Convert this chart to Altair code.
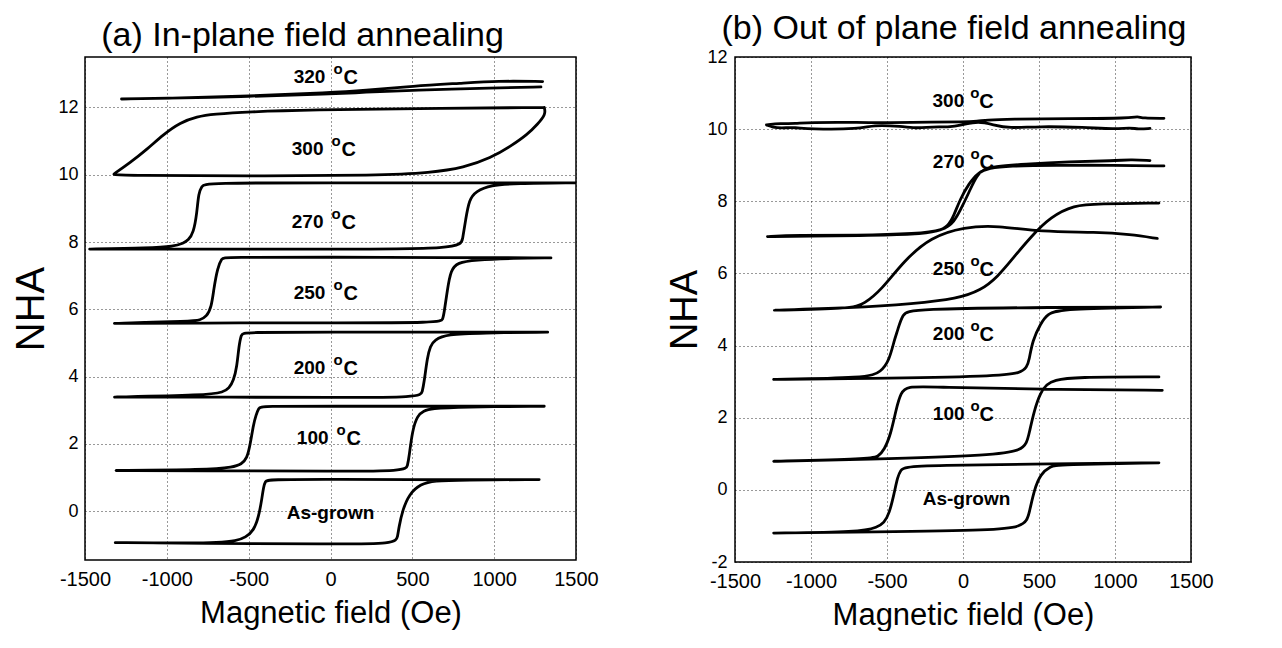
import altair as alt
import pandas as pd

FONT = "Liberation Sans"

# ---------------- Panel (a): in-plane field annealing ----------------
# each loop: descending branch (from +H to -H) and ascending branch (from -H to +H), (H [Oe], NHA)
A_ASG_DOWN = [(1275, 0.94), (700, 0.93), (0, 0.95), (-380, 0.94), (-398, 0.90), (-410, 0.70), (-418, 0.41),
              (-439, -0.18), (-470, -0.58), (-520, -0.78), (-572, -0.88), (-700, -0.93), (-819, -0.95), (-1337, -0.93)]
A_ASG_UP = [(-1337, -0.93), (-800, -0.96), (0, -0.97), (398, -0.98), (410, -0.75), (418, -0.48), (439, 0.01),
            (480, 0.51), (551, 0.81), (633, 0.91), (800, 0.93), (1275, 0.94)]

A_100_DOWN = [(1306, 3.12), (700, 3.12), (0, 3.12), (-420, 3.12), (-439, 3.08), (-455, 2.85), (-470, 2.60),
              (-490, 2.00), (-510, 1.56), (-545, 1.40), (-592, 1.31), (-757, 1.23), (-1337, 1.21)]
A_100_UP = [(-1337, 1.21), (-600, 1.20), (0, 1.19), (459, 1.19), (470, 1.35), (480, 1.60), (500, 2.40),
            (531, 2.85), (570, 2.98), (612, 3.05), (800, 3.10), (1306, 3.12)]

A_200_DOWN = [(1327, 5.32), (700, 5.32), (0, 5.32), (-530, 5.32), (-545, 5.27), (-560, 4.90), (-572, 4.29),
              (-592, 3.89), (-620, 3.65), (-653, 3.54), (-757, 3.45), (-1347, 3.39)]
A_200_UP = [(-1347, 3.39), (-600, 3.39), (0, 3.38), (551, 3.38), (560, 3.55), (571, 3.79), (592, 4.59),
            (610, 4.90), (633, 5.09), (714, 5.26), (918, 5.30), (1327, 5.32)]

A_250_DOWN = [(1347, 7.53), (700, 7.54), (0, 7.55), (-650, 7.55), (-663, 7.52), (-690, 7.25), (-714, 6.58),
              (-727, 6.08), (-757, 5.78), (-800, 5.68), (-837, 5.65), (-1347, 5.58)]
A_250_UP = [(-1347, 5.58), (-500, 5.60), (0, 5.60), (673, 5.60), (685, 5.70), (694, 5.88), (714, 6.58),
            (735, 7.17), (776, 7.39), (878, 7.47), (1122, 7.52), (1347, 7.53)]

A_270_DOWN = [(1500, 9.76), (700, 9.76), (0, 9.76), (-765, 9.76), (-786, 9.66), (-806, 9.46), (-816, 8.87),
              (-837, 8.27), (-870, 8.05), (-898, 7.97), (-959, 7.87), (-1100, 7.82), (-1500, 7.79)]
A_270_UP = [(-1500, 7.79), (0, 7.79), (796, 7.79), (806, 8.07), (826, 8.67), (847, 9.26), (888, 9.51),
            (980, 9.69), (1122, 9.74), (1500, 9.76)]

A_300_DOWN = [(1306, 12.00), (510, 11.97), (-102, 11.93), (-510, 11.87), (-714, 11.80), (-816, 11.73),
              (-918, 11.55), (-1020, 11.20), (-1122, 10.75), (-1224, 10.36), (-1327, 10.01)]
A_300_UP = [(-1327, 10.01), (-1250, 9.98), (-510, 9.96), (300, 9.98), (612, 10.06), (816, 10.21), (980, 10.50),
            (1102, 10.85), (1204, 11.20), (1265, 11.50), (1316, 11.80), (1306, 12.00)]

A_320_DOWN = [(1296, 12.77), (1020, 12.79), (800, 12.72), (508, 12.64), (200, 12.50), (0, 12.44),
              (-500, 12.34), (-1000, 12.27), (-1296, 12.25)]
A_320_UP = [(-1296, 12.25), (-500, 12.32), (0, 12.40), (200, 12.45), (508, 12.52), (1000, 12.58), (1286, 12.61)]

A_CURVES = {"As-grown": (A_ASG_DOWN, A_ASG_UP), "100": (A_100_DOWN, A_100_UP), "200": (A_200_DOWN, A_200_UP),
            "250": (A_250_DOWN, A_250_UP), "270": (A_270_DOWN, A_270_UP), "300": (A_300_DOWN, A_300_UP),
            "320": (A_320_DOWN, A_320_UP)}

A_LABELS = ["320", "300", "270", "250", "200", "100"]
A_LABEL_X = [-31, -43, -43, -31, -31, -12]
A_LABEL_Y = [12.92, 10.77, 8.59, 6.50, 4.27, 2.18]
A_NAME_LABEL = "As-grown"
A_NAME_X = 0
A_NAME_Y = -0.06

# ---------------- Panel (b): out of plane field annealing ----------------
B_ASG_DOWN = [(1289, 0.75), (600, 0.72), (-212, 0.68), (-386, 0.63), (-410, 0.55), (-430, 0.36), (-453, -0.10),
              (-485, -0.66), (-520, -0.92), (-562, -1.03), (-671, -1.17), (-1272, -1.20)]
B_ASG_UP = [(-1272, -1.20), (-600, -1.17), (227, -1.12), (380, -1.01), (420, -0.85), (435, -0.66), (468, 0.00),
            (511, 0.45), (577, 0.65), (621, 0.70), (1289, 0.75)]

B_100_DOWN = [(1311, 2.76), (665, 2.78), (-212, 2.85), (-365, 2.87), (-409, 2.71), (-442, 2.20), (-474, 1.56),
              (-518, 1.10), (-560, 0.92), (-606, 0.86), (-1272, 0.79)]
B_100_UP = [(-1272, 0.79), (-649, 0.84), (227, 0.96), (380, 1.10), (420, 1.30), (435, 1.56), (468, 2.20),
            (511, 2.71), (550, 2.92), (599, 3.04), (730, 3.13), (1289, 3.13)]

B_200_DOWN = [(1300, 5.07), (600, 5.06), (-343, 5.02), (-398, 4.88), (-430, 4.42), (-453, 4.14), (-485, 3.59),
              (-540, 3.27), (-627, 3.10), (-1272, 3.06)]
B_200_UP = [(-1272, 3.06), (-649, 3.08), (227, 3.15), (380, 3.24), (420, 3.40), (435, 3.59), (457, 4.14),
            (511, 4.61), (555, 4.88), (643, 5.02), (1300, 5.07)]

B_250_DOWN = [(1278, 6.97), (1100, 7.08), (884, 7.15), (511, 7.15), (227, 7.33), (8, 7.29), (-212, 7.01),
              (-386, 6.36), (-540, 5.53), (-649, 5.16), (-737, 5.02), (-1263, 4.98)]
B_250_UP = [(-1263, 4.98), (-737, 5.04), (-321, 5.16), (-36, 5.30), (117, 5.53), (227, 5.90), (336, 6.46),
            (445, 7.01), (577, 7.57), (730, 7.89), (884, 7.93), (1289, 7.95)]

B_270_DOWN = [(1322, 8.98), (1000, 9.00), (600, 9.00), (300, 8.98), (170, 8.92), (100, 8.80), (40, 8.50),
              (-20, 8.05), (-60, 7.60), (-100, 7.30), (-160, 7.17), (-300, 7.08), (-700, 7.05), (-1000, 7.03),
              (-1296, 7.02)]
B_270_UP = [(-1296, 7.02), (-1100, 7.06), (-700, 7.05), (-300, 7.10), (-130, 7.20), (-60, 7.40), (0, 7.90),
            (50, 8.35), (90, 8.70), (130, 8.88), (200, 8.96), (400, 9.03), (700, 9.10), (1000, 9.12),
            (1100, 9.16), (1230, 9.13)]

B_300_DOWN = [(1322, 10.30), (1180, 10.30), (1150, 10.36), (1100, 10.30), (700, 10.29), (300, 10.28),
              (150, 10.25), (100, 10.22), (0, 10.20), (-200, 10.20), (-500, 10.17), (-671, 10.19),
              (-1022, 10.19), (-1100, 10.15), (-1200, 10.16), (-1296, 10.12)]
B_300_UP = [(-1296, 10.12), (-1250, 10.05), (-1200, 10.03), (-1100, 10.05), (-1022, 10.00), (-671, 10.00),
            (-600, 10.12), (-400, 10.08), (-300, 10.02), (-200, 10.07), (-100, 10.05), (0, 10.12),
            (100, 10.22), (200, 10.12), (300, 10.02), (500, 10.08), (800, 10.05), (1000, 10.00),
            (1100, 10.04), (1150, 10.00), (1230, 10.02)]

B_CURVES = {"As-grown": (B_ASG_DOWN, B_ASG_UP), "100": (B_100_DOWN, B_100_UP), "200": (B_200_DOWN, B_200_UP),
            "250": (B_250_DOWN, B_250_UP), "270": (B_270_DOWN, B_270_UP), "300": (B_300_DOWN, B_300_UP)}

B_LABELS = ["300", "270", "250", "200", "100"]
B_LABEL_X = [8, 10, 10, 10, 10]
B_LABEL_Y = [10.78, 9.10, 6.13, 4.33, 2.11]
B_NAME_LABEL = "As-grown"
B_NAME_X = 23
B_NAME_Y = -0.24

X_TICKS = [-1500, -1000, -500, 0, 500, 1000, 1500]


def curves_df(curves):
    rows = []
    for name, (down, up) in curves.items():
        for i, (h, m) in enumerate(list(down) + list(up)):
            rows.append({"curve": name, "i": i, "H": h, "M": m})
    return pd.DataFrame(rows)


def panel(curves, labels, lx, ly, name, nx, ny, title, ydom, yticks, width, height,
          nha_size, nha_pad, label_pad, title_dx, title_offset, o_dx, c_dx):
    xs = alt.Scale(domain=[-1500, 1500], nice=False)
    ys = alt.Scale(domain=ydom, nice=False, zero=False)
    xaxis = alt.Axis(values=X_TICKS, labelExpr="'' + datum.value", title="Magnetic field (Oe)",
                     titleFontSize=31, labelFontSize=20, labelPadding=9, titlePadding=9,
                     titleFontWeight="normal", labelFlush=False, labelOverlap=False)
    yaxis = alt.Axis(values=yticks, labelExpr="'' + datum.value", title="NHA", titleFontSize=nha_size,
                     labelFontSize=18, labelPadding=label_pad, titlePadding=nha_pad,
                     titleFontWeight="normal", labelOverlap=False)
    lines = alt.Chart(curves_df(curves)).mark_line(
        color="black", strokeWidth=2.8, clip=True, strokeJoin="round", strokeCap="round",
        interpolate="basis"
    ).encode(
        x=alt.X("H:Q", scale=xs, axis=xaxis),
        y=alt.Y("M:Q", scale=ys, axis=yaxis),
        detail="curve:N",
        order="i:Q",
    )
    lab = pd.DataFrame({"t": labels, "H": lx, "M": ly})
    nums = alt.Chart(lab).mark_text(font=FONT, fontSize=19, fontWeight="bold", align="right",
                                    baseline="middle", color="black").encode(
        x=alt.X("H:Q", scale=xs), y=alt.Y("M:Q", scale=ys), text="t:N")
    sup = alt.Chart(lab).mark_text(font=FONT, fontSize=15, align="left", baseline="middle",
                                   dx=o_dx, dy=-8, color="black", fontWeight="bold").encode(
        x=alt.X("H:Q", scale=xs), y=alt.Y("M:Q", scale=ys), text=alt.value("o"))
    cc = alt.Chart(lab).mark_text(font=FONT, fontSize=20, align="left", baseline="middle",
                                  dx=c_dx, dy=1, color="black", fontWeight="bold").encode(
        x=alt.X("H:Q", scale=xs), y=alt.Y("M:Q", scale=ys), text=alt.value("C"))
    nm = pd.DataFrame({"t": [name], "H": [nx], "M": [ny]})
    nmt = alt.Chart(nm).mark_text(font=FONT, fontSize=19, fontWeight="bold", align="center",
                                  baseline="middle", color="black").encode(
        x=alt.X("H:Q", scale=xs), y=alt.Y("M:Q", scale=ys), text="t:N")
    return alt.layer(lines, nums, sup, cc, nmt).properties(
        width=width, height=height,
        title=alt.TitleParams(title, fontSize=34, font=FONT, fontWeight="normal", anchor="middle",
                              dx=title_dx, offset=title_offset, color="black"),
    )


pa = panel(A_CURVES, A_LABELS, A_LABEL_X, A_LABEL_Y, A_NAME_LABEL, A_NAME_X, A_NAME_Y,
           "(a) In-plane field annealing", [-1.45, 13.5], [0, 2, 4, 6, 8, 10, 12], 491, 503,
           40, 6, 7, -28, 4, 8, 18)
pb = panel(B_CURVES, B_LABELS, B_LABEL_X, B_LABEL_Y, B_NAME_LABEL, B_NAME_X, B_NAME_Y,
           "(b) Out of plane field annealing", [-2, 12], [-2, 0, 2, 4, 6, 8, 10, 12], 456, 505,
           38, 2, 8, -9, 2, 6, 15)

chart = alt.hconcat(pa, pb, spacing=67).properties(
    background="white", padding={"left": 3, "top": 3, "right": 0, "bottom": 0}
).configure_view(
    stroke="black", strokeWidth=1.5
).configure_axis(
    grid=True, gridDash=[1, 3], gridColor="black", gridOpacity=0.8, gridWidth=1,
    domain=False, ticks=False, labelFont=FONT, titleFont=FONT, labelColor="black", titleColor="black"
)

chart.save("out.html", embed_options={"renderer": "svg", "actions": False})
